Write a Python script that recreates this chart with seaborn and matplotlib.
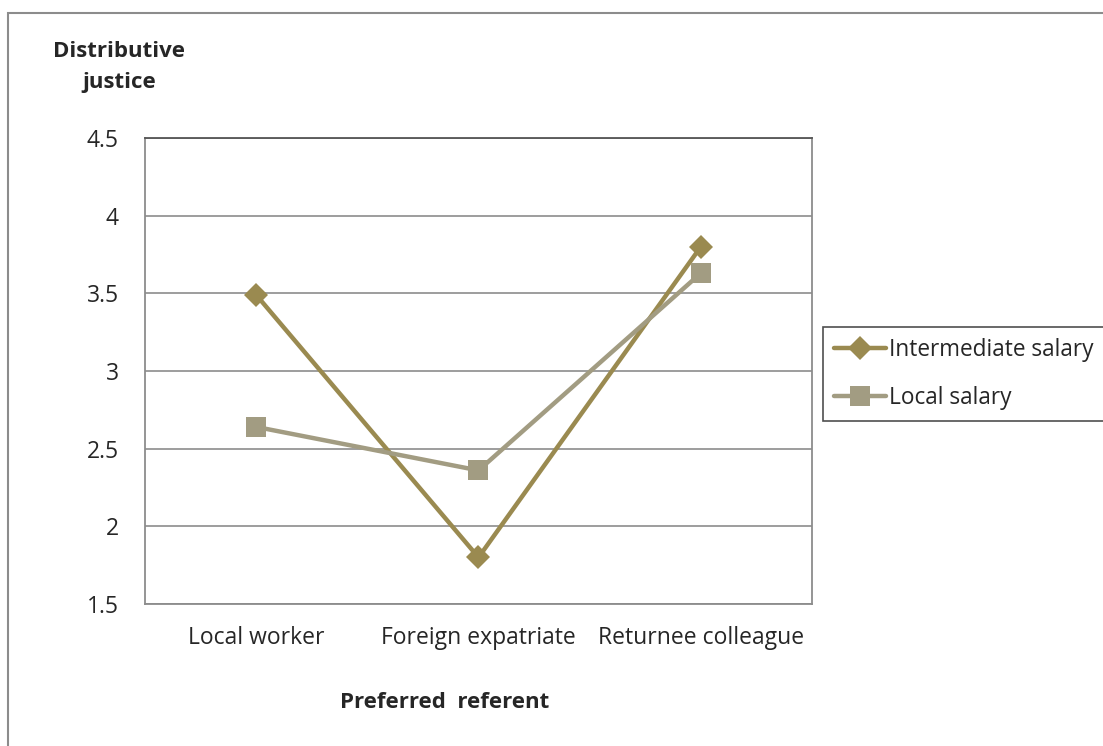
import pandas as pd
import matplotlib.pyplot as plt
import seaborn as sns
from matplotlib.patches import Rectangle

# dados
categorias = ['Local worker', 'Foreign expatriate', 'Returnee colleague']
intermediate_salary = [3.49, 1.80, 3.80]
local_salary = [2.64, 2.36, 3.63]
series = ['Intermediate salary', 'Local salary']
yticks = [1.5, 2, 2.5, 3, 3.5, 4, 4.5]
ytick_labels = ['1.5', '2', '2.5', '3', '3.5', '4', '4.5']

df = pd.DataFrame({
    'referente': categorias * 2,
    'pos': list(range(len(categorias))) * 2,
    'valor': intermediate_salary + local_salary,
    'serie': [series[0]] * 3 + [series[1]] * 3,
})

sns.set_style('white')
plt.rcParams['font.family'] = ['Open Sans', 'DejaVu Sans']

fig = plt.figure(figsize=(11.03, 7.46), dpi=100)
ax = fig.add_axes([145 / 1103, 1 - 604 / 746, 667 / 1103, 466 / 746])

# borda da figura
fig.patches.append(Rectangle((8 / 1103, -0.1), 1.2, (746 - 13) / 746 + 0.1,
                             transform=fig.transFigure, fill=False,
                             edgecolor='#8c8c8c', linewidth=1.5))

cores = {series[0]: '#9a8a50', series[1]: '#a29c82'}
sns.lineplot(data=df, x='pos', y='valor', hue='serie', style='serie',
             palette=cores, markers={series[0]: 'D', series[1]: 's'},
             dashes=False, linewidth=3.2, markersize=12, markeredgewidth=0,
             sort=False, legend=False, ax=ax)

linhas = ax.get_lines()[:2]
linhas[0].set_markersize(12)
linhas[1].set_markersize(14)
for ln, nome in zip(linhas, series):
    ln.set_label(nome)

ax.set_xlim(-0.5, 2.5)
ax.set_ylim(1.5, 4.5)
ax.set_yticks(yticks)
ax.set_yticklabels(ytick_labels, fontsize=16.5)
ax.set_xticks([0.5, 1.5])
ax.set_xticklabels([])
ax.tick_params(axis='x', direction='in', length=6, color='#8c8c8c', width=1)
ax.tick_params(axis='y', length=0, pad=19)
for i, c in enumerate(categorias):
    ax.text(i, -(638 - 604) / 466, c, transform=ax.get_xaxis_transform(),
            ha='center', va='center', fontsize=16.5)

ax.grid(axis='y', color='#8c8c8c', linewidth=1.2)
ax.set_axisbelow(True)
for lado in ['left', 'bottom', 'right']:
    ax.spines[lado].set_color('#8c8c8c')
    ax.spines[lado].set_linewidth(1.3)
ax.spines['top'].set_color('#555555')
ax.spines['top'].set_linewidth(1.3)

ax.set_xlabel('')
ax.set_ylabel('')
fig.text(119 / 1103, 1 - 67 / 746, 'Distributive\njustice', ha='center',
         va='center', fontsize=16, fontweight='bold', linespacing=1.65)
fig.text(445 / 1103, 1 - 703 / 746, 'Preferred  referent', ha='center',
         va='center', fontsize=16, fontweight='bold')

leg = ax.legend(handles=linhas, loc='upper left',
                bbox_to_anchor=(823 / 1103, 1 - 327 / 746),
                bbox_transform=fig.transFigure, frameon=True, fancybox=False,
                fontsize=16.3, handlelength=2.3, handletextpad=0.1,
                borderaxespad=0, borderpad=0.5, labelspacing=1.05)
leg.get_frame().set_edgecolor('#222222')
leg.get_frame().set_linewidth(1.2)

plt.savefig('out.png', dpi=100)
